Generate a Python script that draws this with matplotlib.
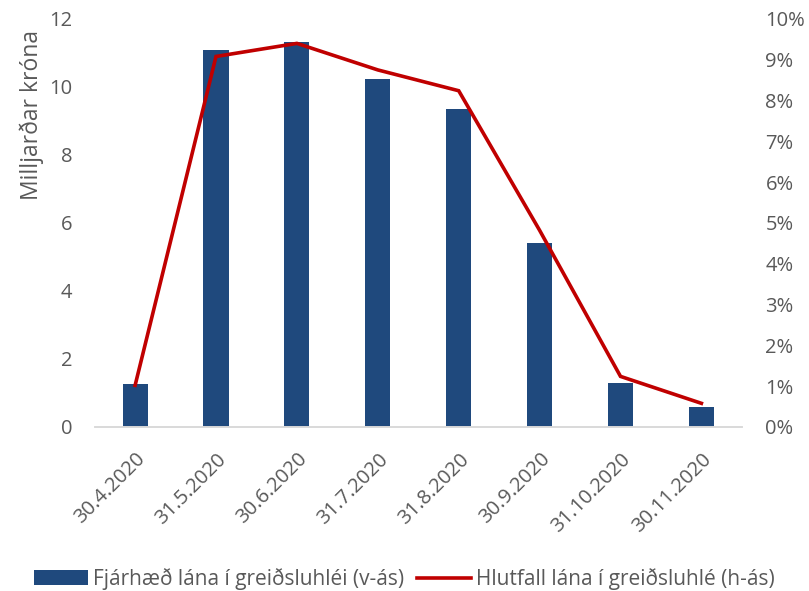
import matplotlib
matplotlib.use('Agg')
import matplotlib.pyplot as plt
from matplotlib.ticker import FuncFormatter

# gögn lesin af myndinni
dates = ['30.4.2020', '31.5.2020', '30.6.2020', '31.7.2020',
         '31.8.2020', '30.9.2020', '31.10.2020', '30.11.2020']
amount = [1.25, 11.09, 11.32, 10.24, 9.35, 5.40, 1.29, 0.58]  # milljarðar króna
share = [1.02, 9.08, 9.40, 8.75, 8.24, 4.82, 1.24, 0.58]  # %

bar_color = '#1f497d'
line_color = '#c00000'
text_color = '#595959'

plt.rcParams['font.family'] = ['Open Sans', 'DejaVu Sans']

fig = plt.figure(figsize=(8.09, 5.91), dpi=100)
ax = fig.add_axes([0.117, 0.2775, 0.8, 0.6905])
ax2 = ax.twinx()

x = list(range(len(dates)))
b = ax.bar(x, amount, width=0.31, color=bar_color, label='Fjárhæð lána í greiðsluhléi (v-ás)')
l, = ax2.plot(x, share, color=line_color, lw=2.6, solid_joinstyle='miter',
              label='Hlutfall lána í greiðsluhlé (h-ás)')

ax.set_xlim(-0.5, len(dates) - 0.5)
ax.set_ylim(0, 12)
ax2.set_ylim(0, 10)
ax.set_yticks(range(0, 13, 2))
ax2.set_yticks(range(0, 11))
ax2.yaxis.set_major_formatter(FuncFormatter(lambda v, p: f'{int(v)}%'))

ax.set_xticks(x)
ax.set_xticklabels(dates, rotation=45, ha='right', rotation_mode='anchor')

for a in (ax, ax2):
    for s in ['top', 'left', 'right']:
        a.spines[s].set_visible(False)
    a.spines['bottom'].set_color('#d9d9d9')
    a.spines['bottom'].set_linewidth(1.2)
    a.tick_params(length=0, labelsize=14.5, labelcolor=text_color)
ax.tick_params(axis='y', pad=16)
ax.tick_params(axis='x', pad=16)
ax2.tick_params(axis='y', pad=17)

ax.set_ylabel('Milljarðar króna', fontsize=16.5, color=text_color)
ax.yaxis.set_label_coords(-0.078, 0.765)

fig.legend(handles=[b, l], loc='lower center', bbox_to_anchor=(0.5, -0.03), ncol=2,
           frameon=False, fontsize=15, labelcolor=text_color, handlelength=2.6,
           handletextpad=0.25, columnspacing=0.6)

fig.savefig('out.png', dpi=100)
